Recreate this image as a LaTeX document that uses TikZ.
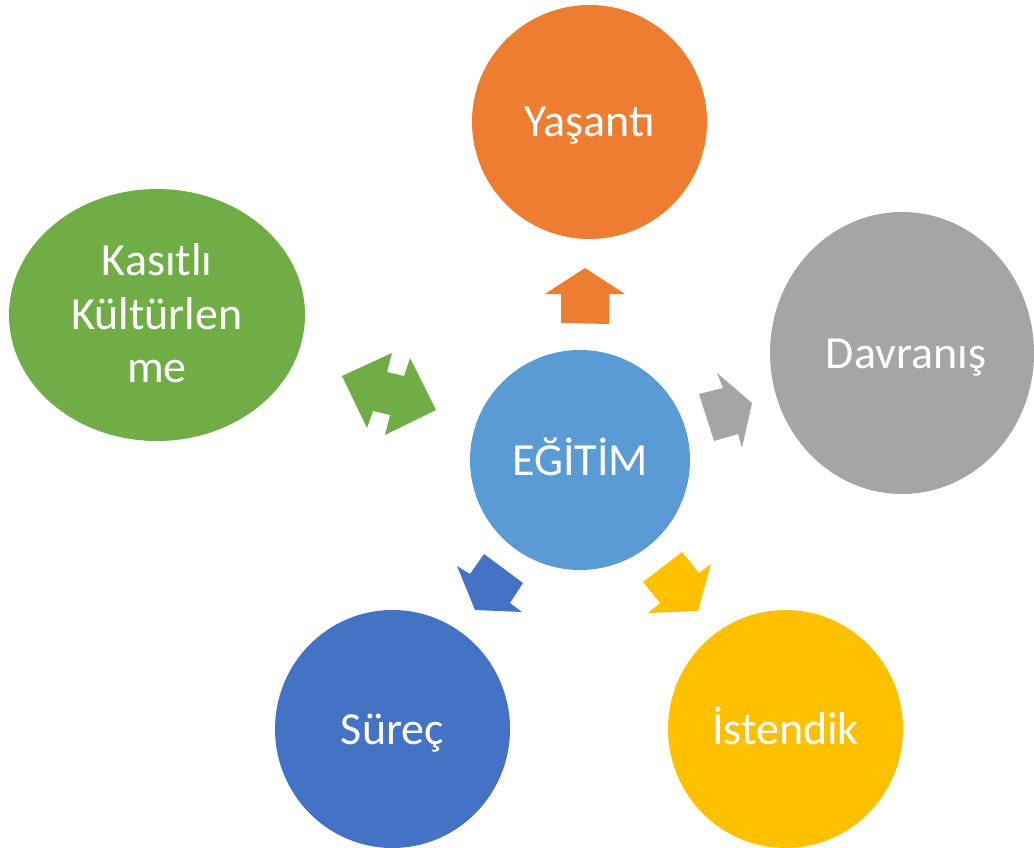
\documentclass[tikz,border=0pt]{standalone}
\usepackage{fontspec}
\setmainfont{Carlito}
\usetikzlibrary{shapes.geometric}
\definecolor{cOrange}{HTML}{ED7D31}
\definecolor{cGray}{HTML}{A5A5A5}
\definecolor{cGreen}{HTML}{70AD47}
\definecolor{cBlue}{HTML}{4472C4}
\definecolor{cYellow}{HTML}{FFC000}
\definecolor{cCenter}{HTML}{5B9BD5}
\tikzset{
  blob/.style={ellipse, inner sep=0pt, draw=none},
  lbl/.style={anchor=base, text=white, font=\fontsize{46}{54}\selectfont, inner sep=0pt, align=center},
}
\begin{document}
\begin{tikzpicture}[x=1pt,y=-1pt]
\useasboundingbox (0,0) rectangle (1034,848);
% circles
\node[blob, fill=cCenter, minimum width=220pt, minimum height=220pt] (egitim) at (580,460) {};
\node[blob, fill=cOrange, minimum width=235pt, minimum height=234pt] (yasanti) at (589.5,122) {};
\node[blob, fill=cGray, minimum width=264pt, minimum height=282pt] (davranis) at (902,353) {};
\node[blob, fill=cGreen, minimum width=296pt, minimum height=252pt] (kasitli) at (157,315) {};
\node[blob, fill=cBlue, minimum width=235pt, minimum height=238pt] (surec) at (392.5,729) {};
\node[blob, fill=cYellow, minimum width=235pt, minimum height=238pt] (istendik) at (785.5,729) {};
% labels
\node[lbl] (tEgitim) at (580,475) {EĞİTİM};
\node[lbl] (tYasanti) at (589.5,137) {Yaşantı};
\node[lbl] (tDavranis) at (906,368) {Davranış};
\node[lbl] (tKas1) at (157,275) {Kasıtlı};
\node[lbl] (tKas2) at (157,329) {Kültürlen};
\node[lbl] (tKas3) at (157,382) {me};
\node[lbl] (tSurec) at (392.5,744) {Süreç};
\node[lbl] (tIstendik) at (785.5,744) {İstendik};
% block arrows
\fill[cOrange] (585,268) -- (625,294) -- (609,294) -- (609,324) -- (561,323) -- (561,294) -- (545,294) -- cycle;
\fill[cGray] (752,403) -- (742,448) -- (738,434) -- (714,441) -- (699,394) -- (723,388) -- (717,373) -- cycle;
\fill[cBlue] (475,610) -- (457,566) -- (470,574) -- (484,554) -- (523,583) -- (510,603) -- (522,612) -- cycle;
\fill[cYellow] (698,611) -- (711,564) -- (699,573) -- (682,552) -- (643,582) -- (660,603) -- (648,613) -- cycle;
\fill[cGreen] (342,376) -- (392,353) -- (387,372) -- (404,376) -- (410,358) -- (436,410) -- (385,435) -- (390,415) -- (373,411) -- (367,428) -- cycle;
\end{tikzpicture}
\end{document}
